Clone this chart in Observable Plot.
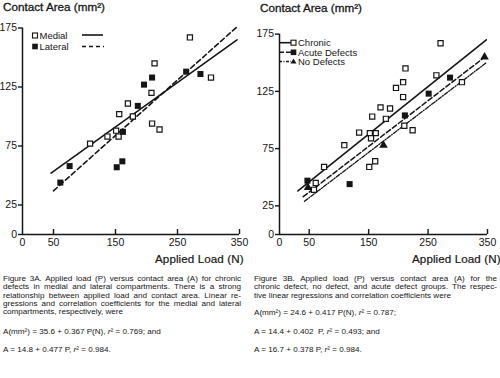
<!DOCTYPE html>
<html><head><meta charset="utf-8">
<script src="https://cdn.jsdelivr.net/npm/d3@7"></script>
<script src="https://cdn.jsdelivr.net/npm/@observablehq/plot@0.6"></script>
<style>
html,body{margin:0;padding:0;background:#fff;}
body{width:500px;height:378px;position:relative;overflow:hidden;font-family:"Liberation Sans",Arial,sans-serif;color:#151515;}
.abs{position:absolute;white-space:nowrap;}
.title{font-size:11.7px;-webkit-text-stroke:0.3px #151515;}
.xlab{font-size:11.6px;letter-spacing:0.1px;-webkit-text-stroke:0.2px #151515;}
.cap{font-size:8.1px;line-height:8.3px;}
.cap .j{text-align:justify;text-align-last:justify;}
.eq{font-size:8.1px;line-height:9px;}
#legend{position:absolute;left:0;top:0;}
</style></head><body>
<div class="abs title" style="left:3px;top:0px;">Contact Area (mm²)</div>
<div class="abs title" style="left:260px;top:1px;">Contact Area (mm²)</div>
<div id="plotA" class="abs" style="left:0;top:0;"></div>
<div id="plotB" class="abs" style="left:250px;top:0;"></div>
<div class="abs xlab" style="left:155px;top:252px;">Applied Load (N)</div>
<div class="abs xlab" style="left:412px;top:252px;">Applied Load (N)</div>
<div class="abs cap" style="left:3px;top:275px;width:238px;white-space:normal;">
<div class="j">Figure 3A. Applied load (P) versus contact area (A) for chronic</div>
<div class="j">defects in medial and lateral compartments. There is a strong</div>
<div class="j">relationship between applied load and contact area. Linear re-</div>
<div class="j">gressions and correlation coefficients for the medial and lateral</div>
<div>compartments, respectively, were</div>
</div>
<div class="abs eq" style="left:3px;top:327px;">A(mm²) = 35.6 + 0.367 P(N), <i>r</i>² = 0.769; and</div>
<div class="abs eq" style="left:3px;top:345px;">A = 14.8 + 0.477 P, <i>r</i>² = 0.984.</div>
<div class="abs cap" style="left:254px;top:275px;width:243px;white-space:normal;">
<div class="j">Figure 3B. Applied load (P) versus contact area (A) for the</div>
<div class="j">chronic defect, no defect, and acute defect groups. The respec-</div>
<div>tive linear regressions and correlation coefficients were</div>
</div>
<div class="abs eq" style="left:254px;top:308px;">A(mm²) = 24.6 + 0.417 P(N), <i>r</i>² = 0.787;</div>
<div class="abs eq" style="left:254px;top:327px;">A = 14.4 + 0.402&nbsp; P, <i>r</i>² = 0.493; and</div>
<div class="abs eq" style="left:254px;top:345px;">A = 16.7 + 0.378 P, <i>r</i>² = 0.984.</div>
<svg id="legend" width="500" height="378" style="pointer-events:none">
  <g font-family="Liberation Sans, Arial, sans-serif" font-size="9.5" fill="#151515">
    <rect x="32.5" y="33" width="5" height="5" fill="#fff" stroke="#151515" stroke-width="1.1"/>
    <text x="39.5" y="39">Medial</text>
    <line x1="82" x2="103" y1="35" y2="35" stroke="#151515" stroke-width="1.6"/>
    <rect x="32.2" y="43.7" width="5.6" height="5.6" fill="#151515"/>
    <text x="39.5" y="50">Lateral</text>
    <line x1="82" x2="104" y1="46.5" y2="46.5" stroke="#151515" stroke-width="1.6" stroke-dasharray="4,3"/>

    <line x1="279" x2="291" y1="42.7" y2="42.7" stroke="#151515" stroke-width="1.6"/>
    <rect x="291" y="40.2" width="5" height="5" fill="#fff" stroke="#151515" stroke-width="1.1"/>
    <text x="298" y="46">Chronic</text>
    <line x1="279" x2="291" y1="52.3" y2="52.3" stroke="#151515" stroke-width="1.6" stroke-dasharray="5,2"/>
    <rect x="290.7" y="49.5" width="5.6" height="5.6" fill="#151515"/>
    <text x="298" y="55.5">Acute Defects</text>
    <line x1="279" x2="291" y1="61.5" y2="61.5" stroke="#151515" stroke-width="1.4" stroke-dasharray="3,1.5,1,1.5"/>
    <path d="M293.5,58.5 L296.5,63.5 L290.5,63.5 Z" fill="#151515"/>
    <text x="298" y="65">No Defects</text>
  </g>
</svg>
<script>
// axis ticks
const xTicks = [0, 50, 150, 250, 350];
const yTicks = [0, 25, 75, 125, 175];

// Figure 3A: chronic defects, medial (open) and lateral (filled)
const medialLoad = [109, 137, 151, 155, 156, 170, 178, 208, 209, 213, 221, 270, 304];
const medialArea = [77, 83, 88, 83, 102, 111, 100, 120, 94, 145, 89, 167, 133];
const lateralLoad = [61, 76, 152, 161, 162, 186, 196, 209, 264, 287];
const lateralArea = [44, 58, 57, 62, 87, 109, 127, 133, 138, 136];
const medialFitLoad = [46, 346];
const medialFitArea = [52, 165];
const lateralFitLoad = [50, 346];
const lateralFitArea = [37, 176];

// Figure 3B: chronic (open), acute defects (filled), no defects (triangle)
const chronicLoad = [58, 61, 75, 109, 134, 151, 152, 154, 156, 161, 162, 170, 179, 186, 196, 208, 208, 210, 212, 224, 264, 271, 307];
const chronicArea = [39, 45, 59, 78, 89, 59, 88.5, 84, 103, 64, 88.5, 111, 101, 110, 128, 133, 120, 95, 145, 91, 139, 167, 133];
const acuteLoad = [47, 118, 211, 251, 287];
const acuteArea = [47, 44, 104, 123, 137];
const noDefLoad = [48, 175, 345];
const noDefArea = [41, 78, 155];
const chronicFitLoad = [31, 348];
const chronicFitArea = [38, 170];
const acuteFitLoad = [40, 348];
const acuteFitArea = [33, 156];
const noDefFitLoad = [42, 348];
const noDefFitArea = [29, 150];

const ink = "#151515";
const pts = (xs, ys) => xs.map((x, i) => ({x, y: ys[i]}));

function chart(m, marks) {
  return Plot.plot({
    width: 250, height: 250,
    marginLeft: m.l, marginRight: m.r, marginTop: m.t, marginBottom: m.b,
    x: {domain: [0, 350]},
    y: {domain: [0, 175]},
    style: {background: "transparent", color: ink, fontFamily: "'Liberation Sans', Arial, sans-serif", fontSize: "10.5px", overflow: "visible"},
    marks: [
      Plot.axisY(yTicks, {tickSize: 4, tickPadding: 1.5, label: null, strokeWidth: 1.4}),
      Plot.axisX(xTicks, {tickSize: 0, tickPadding: 4, label: null}),
      Plot.axisX(xTicks.slice(1), {tickSize: 5, dy: -5, tickFormat: () => "", label: null, strokeWidth: 1.4}),
      Plot.ruleX([0], {stroke: ink, strokeWidth: 1.5}),
      Plot.ruleY([0], {stroke: ink, strokeWidth: 1.5}),
      ...marks
    ]
  });
}

const openSq = {symbol: "square", r: 2.9, fill: "#fff", stroke: ink, strokeWidth: 1.2};
const fillSq = {symbol: "square", r: 3.4, fill: ink, stroke: "none"};

document.getElementById("plotA").append(chart({l: 22, r: 11, t: 27.5, b: 16}, [
  Plot.line(pts(medialFitLoad, medialFitArea), {x: "x", y: "y", stroke: ink, strokeWidth: 1.6}),
  Plot.line(pts(lateralFitLoad, lateralFitArea), {x: "x", y: "y", stroke: ink, strokeWidth: 1.6, strokeDasharray: "5,3"}),
  Plot.dot(pts(medialLoad, medialArea), {x: "x", y: "y", ...openSq}),
  Plot.dot(pts(lateralLoad, lateralArea), {x: "x", y: "y", ...fillSq})
]));

document.getElementById("plotB").append(chart({l: 29, r: 13, t: 33.6, b: 16}, [
  Plot.line(pts(chronicFitLoad, chronicFitArea), {x: "x", y: "y", stroke: ink, strokeWidth: 1.6}),
  Plot.line(pts(acuteFitLoad, acuteFitArea), {x: "x", y: "y", stroke: ink, strokeWidth: 1.5, strokeDasharray: "5,2.5"}),
  Plot.line(pts(noDefFitLoad, noDefFitArea), {x: "x", y: "y", stroke: ink, strokeWidth: 1.3, strokeDasharray: "4,1.5,1,1.5"}),
  Plot.dot(pts(chronicLoad, chronicArea), {x: "x", y: "y", ...openSq}),
  Plot.dot(pts(acuteLoad, acuteArea), {x: "x", y: "y", ...fillSq}),
  Plot.dot(pts(noDefLoad, noDefArea), {x: "x", y: "y", symbol: "triangle", r: 3.2, fill: ink, stroke: "none"})
]));
</script>
</body></html>
